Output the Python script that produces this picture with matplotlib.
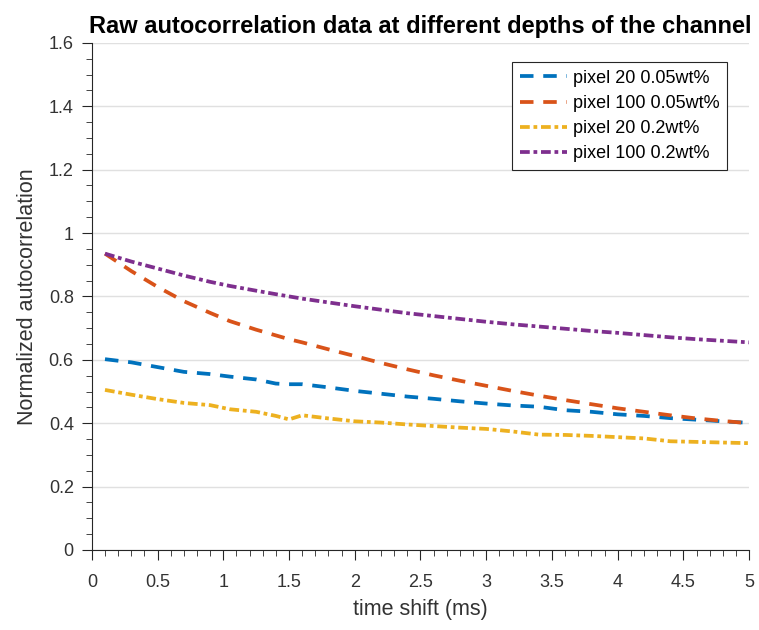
import numpy as np
import matplotlib
matplotlib.use("Agg")
import matplotlib.pyplot as plt
from matplotlib.ticker import MultipleLocator, FuncFormatter

plt.rcParams['font.family'] = ['Liberation Sans', 'DejaVu Sans']

# time shift (ms)
t = [0.1, 0.3, 0.5, 0.7, 0.9, 1.05, 1.25, 1.4, 1.5, 1.6, 1.8, 2.0, 2.2, 2.4,
     2.6, 2.8, 3.0, 3.2, 3.4, 3.6, 3.8, 4.0, 4.2, 4.4, 4.6, 4.8, 5.0]

px20_005 = [0.602, 0.592, 0.577, 0.562, 0.555, 0.547, 0.538, 0.525, 0.523, 0.523,
            0.513, 0.502, 0.493, 0.484, 0.477, 0.469, 0.462, 0.456, 0.452, 0.441,
            0.436, 0.428, 0.423, 0.416, 0.411, 0.406, 0.401]
px100_005 = [0.935, 0.88, 0.83, 0.785, 0.748, 0.722, 0.695, 0.677, 0.665, 0.655,
             0.633, 0.612, 0.59, 0.57, 0.551, 0.534, 0.518, 0.502, 0.487, 0.473,
             0.46, 0.447, 0.436, 0.425, 0.415, 0.407, 0.40]
px20_02 = [0.505, 0.490, 0.476, 0.464, 0.457, 0.444, 0.436, 0.423, 0.412, 0.425,
           0.415, 0.406, 0.402, 0.396, 0.391, 0.386, 0.382, 0.374, 0.364, 0.363,
           0.360, 0.356, 0.352, 0.343, 0.341, 0.339, 0.337]
px100_02 = [0.935, 0.91, 0.888, 0.866, 0.846, 0.833, 0.818, 0.807, 0.80, 0.793,
            0.781, 0.769, 0.758, 0.747, 0.738, 0.729, 0.72, 0.712, 0.705, 0.698,
            0.691, 0.685, 0.678, 0.671, 0.665, 0.66, 0.655]

labels = ['pixel 20 0.05wt%', 'pixel 100 0.05wt%', 'pixel 20 0.2wt%', 'pixel 100 0.2wt%']

fig = plt.figure(figsize=(7.59, 6.30), dpi=100)
ax = fig.add_axes([0.121, 0.127, 0.866, 0.805])

lw = 2.7
dash = (0, (3.6, 2.6))
dashdot = (0, (2.6, 1.0, 1.0, 1.0))
ax.plot(t, px20_005, color='#0072BD', lw=lw, ls=dash, label=labels[0])
ax.plot(t, px100_005, color='#D95319', lw=lw, ls=dash, label=labels[1])
ax.plot(t, px20_02, color='#EDB120', lw=lw, ls=dashdot, label=labels[2])
ax.plot(t, px100_02, color='#7E2F8E', lw=lw, ls=dashdot, label=labels[3])

ax.set_xlim(0, 5)
ax.set_ylim(0, 1.6)
ax.xaxis.set_major_locator(MultipleLocator(0.5))
ax.xaxis.set_minor_locator(MultipleLocator(0.1))
ax.yaxis.set_major_locator(MultipleLocator(0.2))
ax.yaxis.set_minor_locator(MultipleLocator(0.05))
fmt = FuncFormatter(lambda v, pos: f'{round(v, 2):g}')
ax.xaxis.set_major_formatter(fmt)
ax.yaxis.set_major_formatter(fmt)

ax.grid(axis='y', which='major', color='#e0e0e0', lw=1)
ax.set_axisbelow(True)
for s in ['top', 'right']:
    ax.spines[s].set_visible(False)
for s in ['left', 'bottom']:
    ax.spines[s].set_color('#262626')
ax.tick_params(which='both', direction='out', color='#262626', labelcolor='#333333',
               labelsize=13)
ax.tick_params(which='major', length=7)
ax.tick_params(which='minor', length=4)
ax.tick_params(axis='x', pad=10)
ax.tick_params(axis='y', pad=6)

ax.set_xlabel('time shift (ms)', fontsize=15.5, color='#333333', labelpad=6)
ax.set_ylabel('Normalized autocorrelation', fontsize=15.5, color='#333333', labelpad=8)
ax.set_title('Raw autocorrelation data at different depths of the channel',
             fontsize=17, fontweight='bold', pad=7)

leg = ax.legend(loc='upper right', bbox_to_anchor=(0.967, 0.963), fancybox=False,
                framealpha=1, edgecolor='#262626', fontsize=13, handlelength=2.6,
                handletextpad=0.3, borderpad=0.45, labelspacing=0.45,
                borderaxespad=0)
leg.get_frame().set_linewidth(0.8)

fig.savefig('out.png', dpi=100)
